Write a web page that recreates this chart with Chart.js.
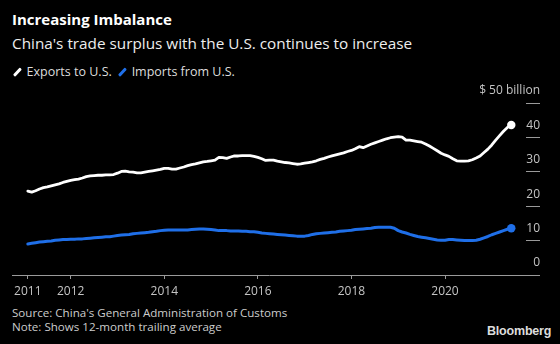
<!DOCTYPE html>
<html>
<head>
<meta charset="utf-8">
<script src="https://cdn.jsdelivr.net/npm/chart.js@4.4.1/dist/chart.umd.min.js"></script>
<style>
  html, body { margin: 0; padding: 0; background: #000; }
  body { width: 560px; height: 344px; position: relative; overflow: hidden; font-family: "Open Sans", sans-serif; }
  .txt { position: absolute; left: 12px; white-space: nowrap; }
  #title { top: 9px; font-size: 15px; font-weight: bold; color: #fff; }
  #subtitle { top: 33px; font-size: 15.3px; color: #eee; }
  #legend { top: 63px; font-size: 12.5px; color: #ddd; }
  #legend .key { display: inline-block; width: 2.6px; height: 10px; transform: rotate(42deg); margin: 0 8px 0 4px; vertical-align: -1px; border-radius: 1px; }
  #legend .item { margin-right: 2px; }
  #source { top: 306px; font-size: 11.6px; color: #ccc; line-height: 14px; }
  #brand { position: absolute; left: 487px; top: 324px; font-size: 12.5px; font-weight: bold; color: #ddd; font-family: "Liberation Sans", Arial, sans-serif; letter-spacing: -0.2px; }
  #wrap { position: absolute; left: 0; top: 70px; width: 560px; height: 230px; }
</style>
</head>
<body>
<div class="txt" id="title">Increasing Imbalance</div>
<div class="txt" id="subtitle">China's trade surplus with the U.S. continues to increase</div>
<div class="txt" id="legend">
  <span class="key" style="background:#fff"></span><span class="item">Exports to U.S.</span>
  <span class="key" style="background:#1f6fe8"></span><span class="item">Imports from U.S.</span>
</div>
<div class="txt" id="source">Source: China's General Administration of Customs<br>Note: Shows 12-month trailing average</div>
<div id="brand">Bloomberg</div>
<div id="wrap"><canvas id="chart" width="560" height="230"></canvas></div>

<script>
// monthly, 12-month trailing average, $ billion; first month is Feb 2011
const startYear = 2011
const startMonth = 2

const exportsToUS = [
  24.4, 24.1, 24.5, 25.0, 25.4, 25.6, 25.9, 26.2, 26.5, 26.9, 27.2,
  27.5, 27.7, 27.9, 28.2, 28.6, 28.8, 28.9, 29.0, 29.0, 29.1, 29.1, 29.2,
  29.6, 30.1, 30.2, 30.0, 29.9, 29.7, 29.7, 29.9, 30.1, 30.3, 30.5, 30.7,
  31.0, 31.0, 30.8, 30.8, 31.1, 31.4, 31.8, 32.1, 32.3, 32.6, 32.9, 33.0,
  33.2, 33.4, 34.2, 34.1, 33.9, 34.3, 34.6, 34.6, 34.7, 34.7, 34.7, 34.5,
  34.2, 33.8, 33.3, 33.4, 33.4, 33.1, 32.9, 32.7, 32.6, 32.4, 32.2, 32.3,
  32.5, 32.7, 32.9, 33.2, 33.6, 33.9, 34.3, 34.6, 34.9, 35.2, 35.5, 35.9,
  36.2, 36.7, 37.3, 37.0, 37.5, 38.0, 38.4, 38.8, 39.2, 39.6, 39.9, 40.1,
  40.2, 40.1, 39.2, 39.2, 39.0, 38.8, 38.6, 38.1, 37.5, 36.8, 36.1, 35.4,
  34.9, 34.5, 33.8, 33.2, 33.1, 33.1, 33.2, 33.5, 34.0, 34.6, 35.6, 36.6,
  37.8, 39.2, 40.5, 41.8, 42.9, 43.6
]

const importsFromUS = [
  9.0, 9.2, 9.4, 9.6, 9.7, 9.8, 9.9, 10.1, 10.2, 10.3, 10.3,
  10.4, 10.4, 10.5, 10.5, 10.6, 10.7, 10.8, 10.9, 11.0, 11.1, 11.1, 11.3,
  11.5, 11.6, 11.7, 11.8, 12.0, 12.1, 12.2, 12.3, 12.4, 12.6, 12.7, 12.9,
  13.0, 13.1, 13.1, 13.1, 13.1, 13.1, 13.1, 13.2, 13.3, 13.4, 13.4, 13.3,
  13.2, 13.1, 12.9, 12.9, 12.9, 12.8, 12.8, 12.8, 12.7, 12.7, 12.6, 12.6,
  12.4, 12.2, 12.1, 12.0, 11.9, 11.8, 11.7, 11.6, 11.5, 11.4, 11.3, 11.3,
  11.3, 11.5, 11.8, 12.0, 12.1, 12.2, 12.3, 12.4, 12.5, 12.7, 12.8, 12.9,
  13.0, 13.2, 13.3, 13.4, 13.5, 13.6, 13.8, 13.9, 13.9, 13.9, 13.9, 13.6,
  12.9, 12.5, 12.2, 11.8, 11.5, 11.2, 11.0, 10.8, 10.6, 10.4, 10.2, 10.1,
  10.1, 10.3, 10.3, 10.2, 10.1, 10.0, 10.0, 10.0, 10.1, 10.4, 10.8, 11.2,
  11.7, 12.1, 12.5, 12.9, 13.3, 13.6
]

const yearTicks = [2011, 2012, 2014, 2016, 2018, 2020]
const valueTicks = [0, 10, 20, 30, 40, 50]

const seriesNames = ["Exports to U.S.", "Imports from U.S."]
const seriesColors = ["#ffffff", "#1f6fe8"]

function toPoints(values) {
    return values.map((v, i) => ({x: startYear + (startMonth - 1 + i) / 12, y: v}))
}

const firstX = startYear + (startMonth - 1) / 12
const axisGrey = "#9a9a9a"
const tickFont = {family: "'Open Sans', sans-serif", size: 12}

function lineSet(i, values) {
    const last = values.length - 1
    return {
        label: seriesNames[i],
        data: toPoints(values),
        borderColor: seriesColors[i],
        backgroundColor: seriesColors[i],
        borderWidth: i === 0 ? 2.8 : 3,
        borderJoinStyle: "round",
        borderCapStyle: "round",
        tension: 0,
        pointRadius: (ctx) => ctx.dataIndex === last ? 4.2 : 0,
        pointHoverRadius: 0,
        pointBorderWidth: 0,
        pointBackgroundColor: seriesColors[i]
    }
}

new Chart(document.getElementById("chart"), {
    type: "line",
    data: {
        datasets: [lineSet(0, exportsToUS), lineSet(1, importsFromUS)]
    },
    options: {
        responsive: false,
        animation: false,
        layout: {padding: {left: 12, right: 20, top: 33, bottom: 0}},
        plugins: {legend: {display: false}, tooltip: {enabled: false}},
        scales: {
            x: {
                type: "linear",
                min: 2010.745,
                max: 2021.731,
                afterBuildTicks: (scale) => {
                    scale.ticks = yearTicks.map(y => ({value: y === startYear ? firstX : y}))
                },
                afterFit: (scale) => { scale.height = 25 },
                grid: {drawOnChartArea: false, drawTicks: true, tickLength: 4, color: axisGrey},
                border: {display: true, color: axisGrey, width: 1},
                ticks: {
                    color: "#c4c4c4",
                    font: tickFont,
                    padding: 5,
                    maxRotation: 0,
                    autoSkip: false,
                    callback: (v) => String(Math.floor(v))
                }
            },
            y: {
                position: "right",
                min: 0,
                max: 50,
                afterBuildTicks: (scale) => {
                    scale.ticks = valueTicks.map(v => ({value: v}))
                },
                afterFit: (scale) => { scale.width = 14 },
                grid: {drawOnChartArea: false, drawTicks: true, tickLength: 14, color: axisGrey},
                border: {display: false},
                ticks: {
                    color: "#c4c4c4",
                    font: tickFont,
                    mirror: true,
                    crossAlign: "near",
                    padding: 14,
                    labelOffset: -12,
                    callback: (v) => v === 50 ? "$ 50 billion" : String(v)
                }
            }
        }
    }
});
</script>
</body>
</html>
